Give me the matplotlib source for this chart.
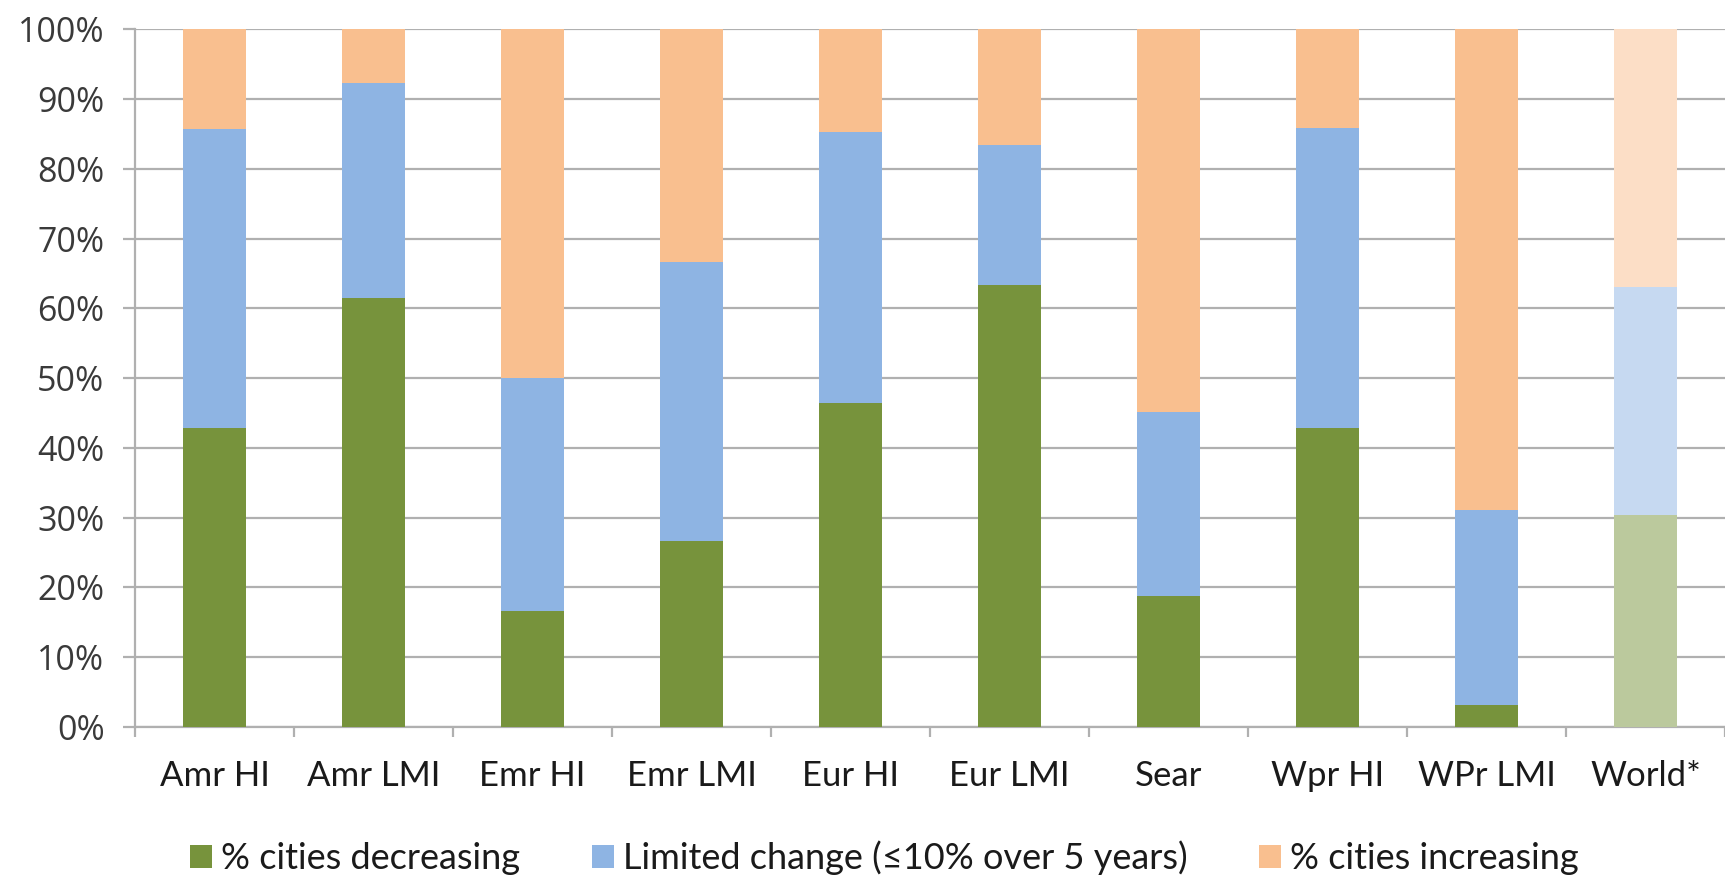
import matplotlib
matplotlib.use("Agg")
import matplotlib.pyplot as plt
import numpy as np
from matplotlib.patches import Patch

regions = ["Amr HI", "Amr LMI", "Emr HI", "Emr LMI", "Eur HI",
           "Eur LMI", "Sear", "Wpr HI", "WPr LMI", "World*"]
pct_decreasing = [42.9, 61.5, 16.7, 26.7, 46.5, 63.4, 18.8, 42.9, 3.2, 30.4]
pct_limited = [42.8, 30.8, 33.3, 40.0, 38.8, 20.0, 26.4, 42.9, 27.9, 32.7]
pct_increasing = [14.3, 7.7, 50.0, 33.3, 14.7, 16.6, 54.8, 14.2, 68.9, 36.9]
series_names = ["% cities decreasing", "Limited change (\u226410% over 5 years)",
                "% cities increasing"]
y_ticks = list(range(0, 101, 10))

green, blue, orange = "#77933C", "#8EB4E3", "#F9BF8F"
green_l, blue_l, orange_l = "#BBC99D", "#C6D9F1", "#FCDEC6"

fig = plt.figure(figsize=(17.25, 8.77), dpi=100)
ax = fig.add_axes([0.0783, 0.171, 0.9217, 0.7956])

x = np.arange(len(regions))
w = 0.40
dec = np.array(pct_decreasing)
lim = np.array(pct_limited)
inc = np.array(pct_increasing)

is_world = np.array([r.startswith("World") for r in regions])
c_dec = [green_l if wv else green for wv in is_world]
c_lim = [blue_l if wv else blue for wv in is_world]
c_inc = [orange_l if wv else orange for wv in is_world]

ax.bar(x, dec, w, color=c_dec, zorder=3)
ax.bar(x, lim, w, bottom=dec, color=c_lim, zorder=3)
ax.bar(x, inc, w, bottom=dec + lim, color=c_inc, zorder=3)

ax.set_xlim(-0.5, len(regions) - 0.5)
ax.set_ylim(0, 100)
ax.set_yticks(y_ticks)
ax.set_yticklabels([f"{t}%" for t in y_ticks], fontfamily="Open Sans",
                   fontsize=24.5, color="#3a3a3a")
ax.yaxis.grid(True, color="#B0B0B0", linewidth=1.6, zorder=0)
ax.tick_params(axis="y", length=9, width=1.6, color="#B0B0B0", pad=13)

ax.set_xticks(x)
ax.set_xticklabels(regions, fontfamily="Lato", fontsize=25, color="#1a1a1a")
ax.set_xticks(np.arange(-0.5, len(regions) - 0.4, 1.0), minor=True)
ax.tick_params(axis="x", which="major", length=0, pad=24)
ax.tick_params(axis="x", which="minor", length=7, width=1.6, color="#B0B0B0")

for side in ["top", "right"]:
    ax.spines[side].set_visible(False)
for side in ["left", "bottom"]:
    ax.spines[side].set_color("#B0B0B0")
    ax.spines[side].set_linewidth(1.6)

handles = [Patch(facecolor=c) for c in (green, blue, orange)]
fig.legend(handles, series_names, loc="center", bbox_to_anchor=(0.5127, 0.022),
           ncol=3, frameon=False, prop={"family": "Lato", "size": 26},
           handlelength=0.6, handleheight=0.6, handletextpad=0.25,
           columnspacing=2.0, labelcolor="#1a1a1a", borderaxespad=0)

fig.savefig("out.png", dpi=100, facecolor="white")
